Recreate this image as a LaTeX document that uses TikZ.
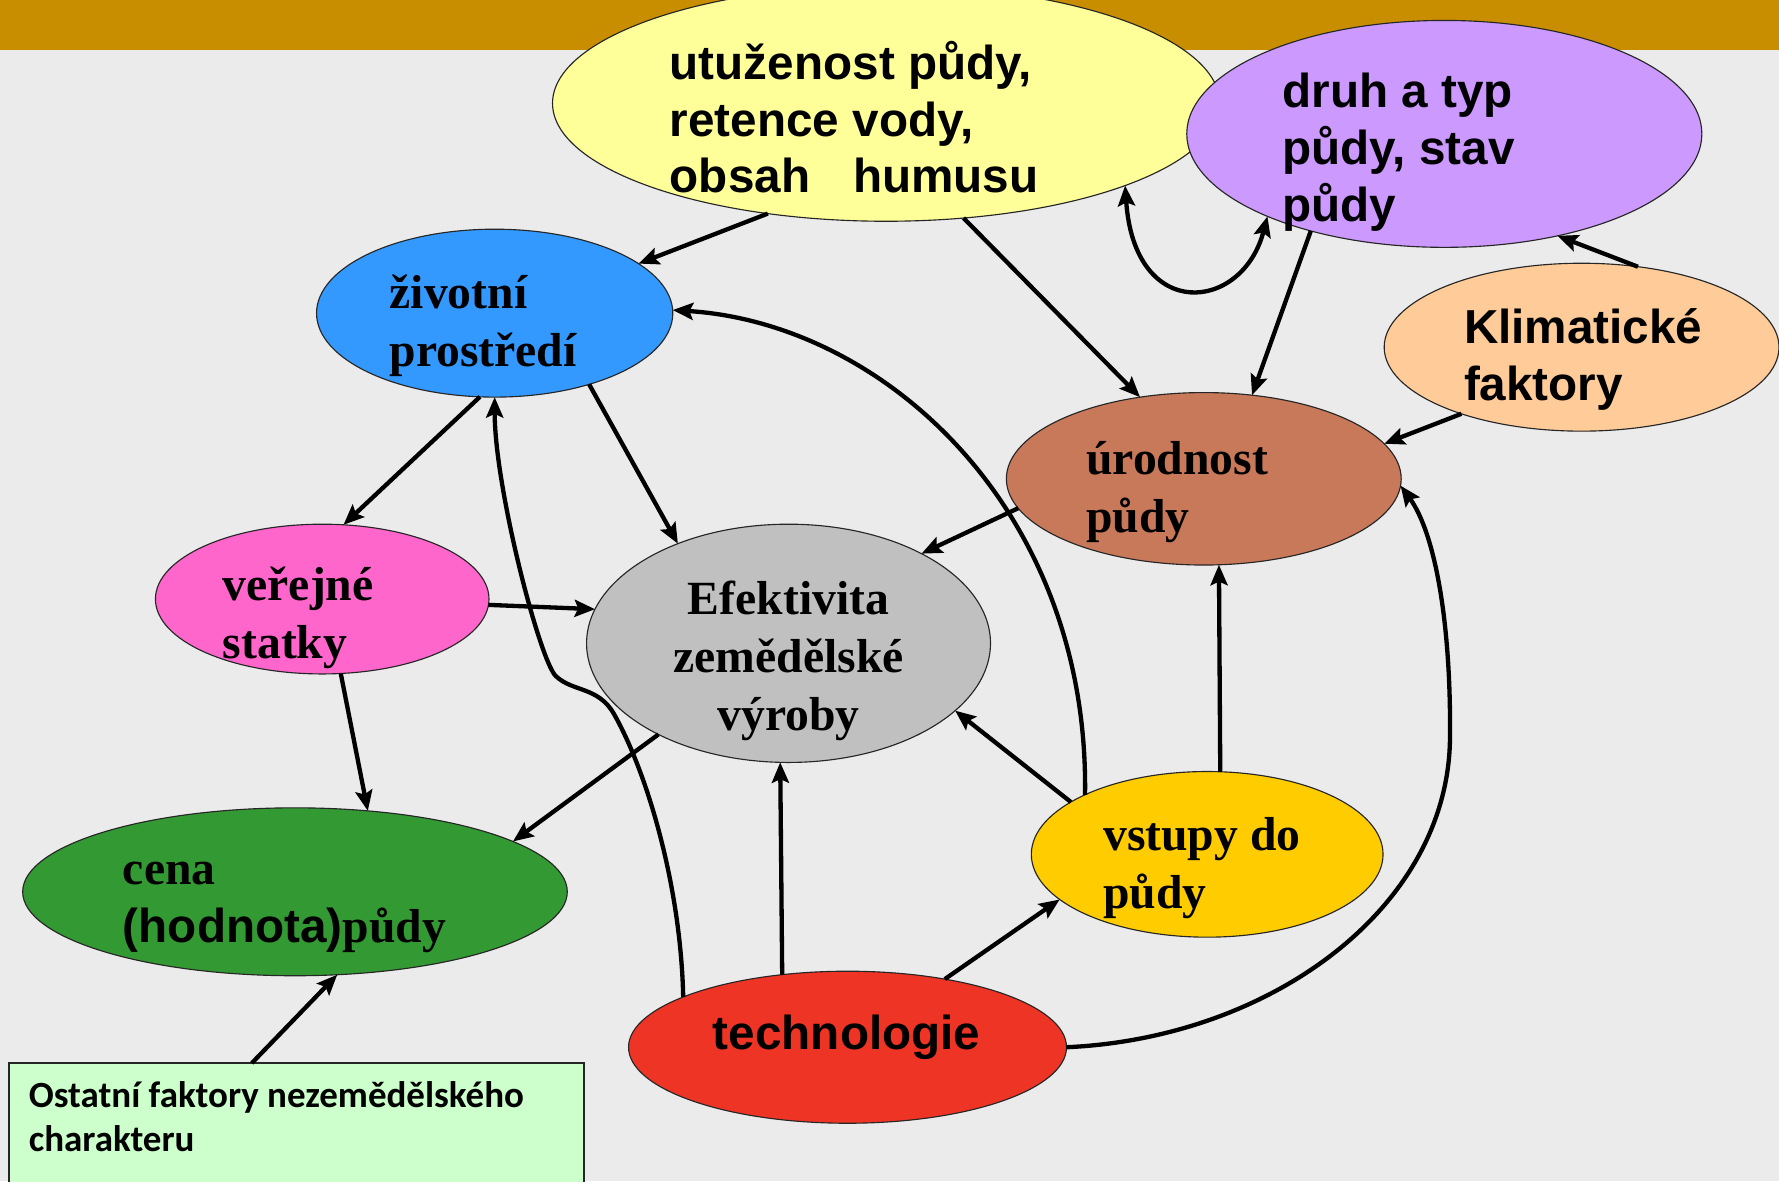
\documentclass[tikz,border=0pt]{standalone}
\usepackage{fontspec}
\setmainfont{Liberation Serif}
\newfontfamily\arialf{Liberation Sans}
\newfontfamily\calibf{Carlito}
\usetikzlibrary{shapes.geometric,arrows.meta,calc}
\definecolor{bgc}{HTML}{EBEBEB}
\definecolor{barc}{HTML}{C98E00}
\definecolor{cyel}{HTML}{FFFF99}
\definecolor{cpur}{HTML}{CC99FF}
\definecolor{cblue}{HTML}{3399FF}
\definecolor{ckli}{HTML}{FFCC99}
\definecolor{cbrown}{HTML}{C8795A}
\definecolor{cpink}{HTML}{FF66CC}
\definecolor{cgray}{HTML}{C0C0C0}
\definecolor{cvst}{HTML}{FFCC00}
\definecolor{ccena}{HTML}{339933}
\definecolor{ctech}{HTML}{EE3424}
\definecolor{cbox}{HTML}{CCFFCC}
\newcommand{\mylines}[1]{\begin{tabular}[t]{@{}l@{}}#1\end{tabular}}
\newcommand{\mylinesc}[1]{\begin{tabular}[t]{@{}c@{}}#1\end{tabular}}
\tikzset{
  ell/.style={ellipse, draw=black!85, line width=0.5pt, inner sep=0pt, outer sep=0pt},
  serlbl/.style={anchor=base west, inner sep=0pt, font={\bfseries\fontsize{21}{25.5}\selectfont}},
  sanlbl/.style={anchor=base west, inner sep=0pt, font={\arialf\bfseries\fontsize{21}{25}\selectfont}},
  arr/.style={line width=1.9pt, -{Stealth[length=9pt,width=7.5pt,inset=1.6pt]}},
  arrboth/.style={line width=1.9pt, {Stealth[length=9pt,width=7.5pt,inset=1.6pt]}-{Stealth[length=9pt,width=7.5pt,inset=1.6pt]}}
}
\begin{document}
\begin{tikzpicture}[x=0.5pt,y=-0.5pt]
\useasboundingbox (0,0) rectangle (1568,1041);
\fill[bgc] (0,0) rectangle (1568,1041);
\fill[barc] (0,0) rectangle (1568,44);

% nodes
\node[ell, fill=cyel,  minimum width=294pt, minimum height=104pt] (yel)   at (781,91)  {};
\node[ell, fill=cpur,  minimum width=227pt, minimum height=100pt] (pur)   at (1273,118) {};
\node[ell, fill=cblue, minimum width=157pt, minimum height=74pt]  (blue)  at (436,276) {};
\node[ell, fill=ckli,  minimum width=174pt, minimum height=74pt]  (kli)   at (1394,306) {};
\node[ell, fill=cbrown,minimum width=174pt, minimum height=76pt]  (brown) at (1061,422) {};
\node[ell, fill=cpink, minimum width=147pt, minimum height=66pt]  (pink)  at (284,528) {};
\node[ell, fill=cgray, minimum width=178pt, minimum height=105pt] (gray)  at (695,567) {};
\node[ell, fill=cvst,  minimum width=155pt, minimum height=73pt]  (vst)   at (1064,753) {};
\node[ell, fill=ccena, minimum width=240pt, minimum height=74pt]  (cena)  at (260,786) {};
\node[ell, fill=ctech, minimum width=193pt, minimum height=67pt]  (tech)  at (747,923) {};
\node[draw=black!85, fill=cbox, line width=0.8pt, inner sep=0pt, outer sep=0pt,
      minimum width=253.5pt, minimum height=62pt, anchor=north west] (box) at (8,937) {};

% texts
\node[sanlbl] (yelT) at (590,70) {\mylines{utuženost půdy,\\retence vody,\\obsah\hspace{0.9em}humusu}};
\node[sanlbl] (purT) at (1130,95) {\mylines{druh a typ\\půdy, stav\\půdy}};
\node[sanlbl] (kliT) at (1290,303) {\mylines{Klimatické\\faktory}};
\node[serlbl] (blueT) at (343,272) {\mylines{životní\\prostředí}};
\node[serlbl] (brownT) at (957,418) {\mylines{úrodnost\\půdy}};
\node[serlbl] (pinkT) at (196,529) {\mylines{veřejné\\statky}};
\node[serlbl, anchor=base] (grayT) at (695,542) {\mylinesc{Efektivita\\zemědělské\\výroby}};
\node[serlbl] (vstT) at (972,750) {\mylines{vstupy do\\půdy}};
\node[serlbl] (cenaT) at (108,780) {\mylines{cena\\{\arialf (hodnota)}půdy}};
\node[sanlbl] (techT) at (628,925) {technologie};
\node[anchor=base west, inner sep=0pt, font={\calibf\bfseries\fontsize{16.3}{19.5}\selectfont}] (boxT) at (25,976)
  {\mylines{Ostatní faktory nezemědělského\\charakteru}};

% connectors
\draw[arr] (yel.223) -- (blue.19);
\draw[arr] (yel.304) -- (brown.128);
\draw[arr] (pur.216) -- (brown.60);
\draw[arrboth] (yel.341) .. controls (1000,285) and (1095,275) .. (pur.205);
\draw[arr] (kli.55) -- (pur.318);
\draw[arr] (kli.209) -- (brown.11);
\draw[arr] (blue.260) -- (pink.74);
\draw[arr] (blue.323) -- (gray.138);
\draw[arr] (pink.358) -- (gray.170);
\draw[arr] (pink.284) -- (cena.48);
\draw[arr] (gray.215) -- (cena.13);
\draw[arr] (brown.189) -- (gray.34);
\draw[arr] (vst.159) -- (gray.338);
\draw[arr] (vst.81) -- (brown.280);
\draw[arr] (vst.154) .. controls (960,450) and (780,285) .. (blue.1);
\draw[arr] (tech.132) -- (gray.266);
\draw[arr] (tech.35) -- (vst.197);
\draw[arr] (tech.0) .. controls (1120,915) and (1277,800) .. (1278,650)
                    .. controls (1279,550) and (1265,470) .. (brown.358);
\draw[arr] (tech.163) .. controls (600,780) and (570,680) .. (541,629)
                      .. controls (527,605) and (505,610) .. (490,596)
                      .. controls (476,583) and (436,430) .. (blue.270);
\draw[arr] ($(box.north west)!0.422!(box.north east)$) -- (cena.297);
\end{tikzpicture}
\end{document}
